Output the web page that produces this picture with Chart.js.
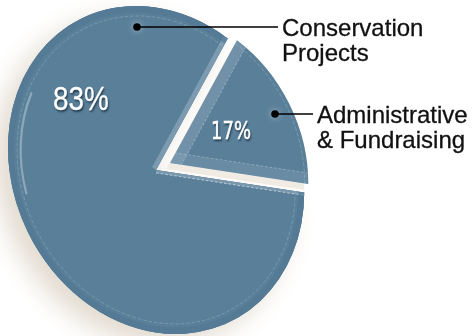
<!DOCTYPE html>
<html>
<head>
<meta charset="utf-8">
<style>
  html, body { margin: 0; padding: 0; background: #fff; }
  canvas { display: block; }
</style>
<script src="https://cdn.jsdelivr.net/npm/chart.js@4"></script>
</head>
<body>
<canvas id="chart1" width="472" height="336"></canvas>
<script>
const categories = ["Administrative & Fundraising", "Conservation Projects"];
const shares = [17, 83];
const categoryLines = [["Administrative", "& Fundraising"], ["Conservation", "Projects"]];

const slate = "#5a7f99";
// the pie is tilted a little, so the round arcs get squashed into an ellipse
const tilt = [0.901, 0.064, 0.064, 0.998];
const centerX = 160, centerY = 168;

function applyTilt(ctx) {
  ctx.translate(centerX, centerY);
  ctx.transform(tilt[0], tilt[1], tilt[2], tilt[3], 0, 0);
  ctx.translate(-centerX, -centerY);
}

function wedgePath(ctx, arc) {
  ctx.beginPath();
  ctx.moveTo(arc.x, arc.y);
  ctx.arc(arc.x, arc.y, arc.outerRadius, arc.startAngle, arc.endAngle);
  ctx.closePath();
}

// push a slice away from the middle along its own centre line
function pullOut(arc, dist) {
  const mid = (arc.startAngle + arc.endAngle) / 2;
  arc.x += Math.cos(mid) * dist;
  arc.y += Math.sin(mid) * dist;
}

// light band running along one straight edge of a slice
function edgeBand(ctx, arc, angle, side, width, fill, dash) {
  const r = arc.outerRadius;
  const nx = -Math.sin(angle) * side, ny = Math.cos(angle) * side;
  const ex = Math.cos(angle) * r, ey = Math.sin(angle) * r;
  ctx.fillStyle = fill;
  ctx.beginPath();
  ctx.moveTo(arc.x, arc.y);
  ctx.lineTo(arc.x + ex, arc.y + ey);
  ctx.lineTo(arc.x + ex + nx * width, arc.y + ey + ny * width);
  ctx.lineTo(arc.x + nx * width, arc.y + ny * width);
  ctx.closePath();
  ctx.fill();
  if (dash) {
    ctx.strokeStyle = dash;
    ctx.lineWidth = 1;
    ctx.setLineDash([3, 2]);
    ctx.beginPath();
    ctx.moveTo(arc.x + nx * width, arc.y + ny * width);
    ctx.lineTo(arc.x + ex + nx * width, arc.y + ey + ny * width);
    ctx.stroke();
    ctx.setLineDash([]);
  }
}

function rimLine(ctx, arc, inset, color, width, dash) {
  ctx.strokeStyle = color;
  ctx.lineWidth = width;
  ctx.setLineDash(dash);
  ctx.beginPath();
  ctx.arc(arc.x, arc.y, arc.outerRadius - inset, arc.startAngle, arc.endAngle);
  ctx.stroke();
  ctx.setLineDash([]);
}

const piePlugin = {
  id: "piePlugin",
  afterDatasetsUpdate(chart) {
    const arcs = chart.getDatasetMeta(0).data;
    // the pulled out slice is a bit shorter than the big one
    arcs[0].outerRadius = 153;
    pullOut(arcs[0], 13);
    pullOut(arcs[1], 5);
  },
  beforeDatasetsDraw(chart) {
    const ctx = chart.ctx;
    const arcs = chart.getDatasetMeta(0).data;
    ctx.save();
    applyTilt(ctx);

    // soft cream shadow under the big slice, hard one under the small slice
    ctx.save();
    ctx.shadowColor = "#e2dbcf";
    ctx.shadowBlur = 26;
    ctx.shadowOffsetX = -13;
    ctx.shadowOffsetY = 11;
    arcs[1].draw(ctx);
    ctx.restore();
    ctx.save();
    ctx.fillStyle = "#fff";
    wedgePath(ctx, arcs[0]);
    ctx.shadowColor = "#f0ece4";
    ctx.shadowBlur = 0;
    ctx.shadowOffsetX = -4;
    ctx.shadowOffsetY = 6;
    ctx.fill();
    ctx.restore();
  },
  afterDatasetsDraw(chart) {
    const ctx = chart.ctx;
    const arcs = chart.getDatasetMeta(0).data;
    const small = arcs[0], big = arcs[1];

    // bevels on the small slice
    ctx.save();
    wedgePath(ctx, small);
    ctx.clip();
    edgeBand(ctx, small, small.startAngle, 1, 11, "rgba(165,190,205,0.3)", "rgba(225,235,240,0.35)");
    edgeBand(ctx, small, small.endAngle, -1, 11, "rgba(150,175,195,0.25)", "rgba(215,228,236,0.35)");
    rimLine(ctx, small, 4, "rgba(225,235,242,0.3)", 0.8, [4, 2]);
    ctx.restore();

    // bevels and rim on the big slice
    ctx.save();
    wedgePath(ctx, big);
    ctx.clip();
    edgeBand(ctx, big, big.endAngle, -1, 5, "rgba(190,208,220,0.35)", null);
    edgeBand(ctx, big, big.startAngle, 1, 3, "rgba(215,228,236,0.25)", "rgba(235,242,246,0.6)");
    rimLine(ctx, big, 3, "rgba(80,118,146,0.6)", 7, []);
    rimLine(ctx, big, 10, "rgba(225,235,242,0.3)", 0.8, [4, 2]);
    // glossy streak on the left side
    ctx.lineCap = "round";
    ctx.strokeStyle = "rgba(215,228,238,0.4)";
    ctx.lineWidth = 2.5;
    ctx.beginPath();
    ctx.arc(big.x, big.y, big.outerRadius - 14, Math.PI * 0.93, Math.PI * 1.15);
    ctx.stroke();
    ctx.restore();

    ctx.restore(); // from beforeDatasetsDraw
  },
  afterDraw(chart) {
    const ctx = chart.ctx;
    ctx.save();

    // leader lines with their dots
    const leaders = [[275, 114, 313], [137, 27, 278]];
    leaders.forEach(([x, y, end]) => {
      ctx.save();
      ctx.shadowColor = "rgba(255,255,255,0.5)";
      ctx.shadowBlur = 6;
      ctx.fillStyle = "#000";
      ctx.beginPath();
      ctx.arc(x, y, 3.8, 0, Math.PI * 2);
      ctx.fill();
      ctx.restore();
      ctx.strokeStyle = "#000";
      ctx.lineWidth = 1.4;
      ctx.beginPath();
      ctx.moveTo(x, y);
      ctx.lineTo(end, y);
      ctx.stroke();
    });

    // category names
    ctx.fillStyle = "#111";
    ctx.strokeStyle = "#111";
    ctx.lineWidth = 0.3;
    ctx.font = '24px "Liberation Sans"';
    ctx.textBaseline = "alphabetic";
    ctx.textAlign = "left";
    const namePos = [[317, 123], [282, 36]];
    categoryLines.forEach((lines, i) => {
      lines.forEach((line, j) => {
        ctx.fillText(line, namePos[i][0], namePos[i][1] + j * 25);
        ctx.strokeText(line, namePos[i][0], namePos[i][1] + j * 25);
      });
    });

    // percentages, squeezed horizontally
    function percent(text, x, y, font, squeeze, weight) {
      ctx.save();
      ctx.translate(x, y);
      ctx.scale(squeeze, 1);
      ctx.font = font;
      ctx.textAlign = "center";
      ctx.shadowColor = "rgba(20,40,55,0.8)";
      ctx.shadowBlur = 2;
      ctx.shadowOffsetX = 1;
      ctx.shadowOffsetY = 2;
      ctx.fillStyle = "#fff";
      ctx.fillText(text, 0, 0);
      ctx.shadowColor = "transparent";
      ctx.strokeStyle = "#fff";
      ctx.lineWidth = weight;
      ctx.strokeText(text, 0, 0);
      ctx.restore();
    }
    percent(shares[1] + "%", 81, 110, '34px "Liberation Sans"', 0.82, 0.3);
    percent(shares[0] + "%", 231, 139, '25px "DejaVu Sans"', 0.72, 0.5);
    ctx.restore();
  }
};

new Chart(document.getElementById("chart1"), {
  type: "pie",
  data: {
    labels: categories,
    datasets: [{
      data: shares,
      backgroundColor: slate,
      borderWidth: 0,
      clip: false
    }]
  },
  options: {
    responsive: false,
    animation: false,
    events: [],
    rotation: 33,
    radius: 164,
    layout: { padding: { left: 0, right: 152, top: 0, bottom: 0 } },
    plugins: { legend: { display: false }, tooltip: { enabled: false } }
  },
  plugins: [piePlugin]
});
</script>
</body>
</html>
